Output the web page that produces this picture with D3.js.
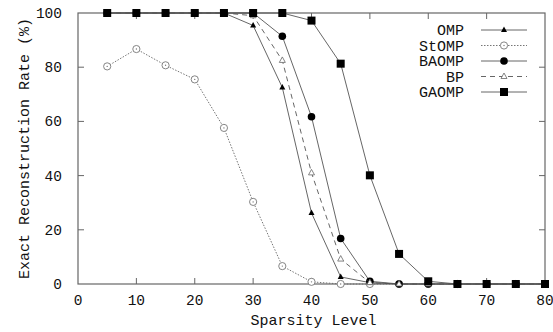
<!DOCTYPE html>
<html><head><meta charset="utf-8">
<script src="https://cdn.jsdelivr.net/npm/d3@7"></script>
<style>body{margin:0;background:#fff}svg{display:block}text{font-family:"Liberation Mono","DejaVu Sans Mono",monospace;fill:#111}</style>
</head><body><svg id="c" width="553" height="332"></svg>
<script>
const sparsity = [5,10,15,20,25,30,35,40,45,50,55,60,65,70,75,80];
const OMP   = [100,100,100,100,100,95.4,72.5,26.2,2.6,0.5,0,0,0,0,0,0];
const StOMP = [80.3,86.7,80.7,75.5,57.6,30.3,6.6,0.8,0,0,0,0,0,0,0,0];
const BAOMP = [100,100,100,100,100,100,91.4,61.7,16.8,1,0,0,0,0,0,0];
const BP    = [100,100,100,100,100,99,82.5,41,9.2,0.5,0,0,0,0,0,0];
const GAOMP = [100,100,100,100,100,100,100,97.2,81.3,40.1,11.1,1,0,0,0,0];
const xTicks = [0,10,20,30,40,50,60,70,80];
const yTicks = [0,20,40,60,80,100];
const seriesNames = ["OMP","StOMP","BAOMP","BP","GAOMP"];

const svg = d3.select("#c");
const L=78, R=545, T=13, B=284;
const x = d3.scaleLinear().domain([0,80]).range([L,R]);
const y = d3.scaleLinear().domain([0,100]).range([B,T]);
const frame="#666";

const g = svg.append("g");
xTicks.forEach(t=>{
  if(t>0 && t<80){
    g.append("line").attr("x1",x(t)).attr("x2",x(t)).attr("y1",B).attr("y2",B-6).attr("stroke",frame);
    g.append("line").attr("x1",x(t)).attr("x2",x(t)).attr("y1",T).attr("y2",T+6).attr("stroke",frame);
  }
  g.append("text").attr("x",x(t)).attr("y",B+21).attr("text-anchor","middle").attr("font-size",14.5).text(t);
});
yTicks.forEach(t=>{
  if(t>0 && t<100){
    g.append("line").attr("x1",L).attr("x2",L+6).attr("y1",y(t)).attr("y2",y(t)).attr("stroke",frame);
    g.append("line").attr("x1",R).attr("x2",R-6).attr("y1",y(t)).attr("y2",y(t)).attr("stroke",frame);
  }
  g.append("text").attr("x",L-16).attr("y",y(t)+5).attr("text-anchor","end").attr("font-size",14.5).text(t);
});
g.append("rect").attr("x",L).attr("y",T).attr("width",R-L).attr("height",B-T).attr("fill","none").attr("stroke",frame).attr("stroke-width",1.2);

svg.append("text").attr("x",(L+R)/2+2).attr("y",325).attr("text-anchor","middle").attr("font-size",15).text("Sparsity Level");
svg.append("text").attr("transform","translate(29,"+((T+B)/2)+") rotate(-90)").attr("text-anchor","middle").attr("font-size",15).text("Exact Reconstruction Rate (%)");

const line = d3.line().x((d,i)=>x(sparsity[i])).y(d=>y(d));
const styles = {
  OMP:{data:OMP,dash:null,marker:"tri"},
  StOMP:{data:StOMP,dash:"1.5,1.5",marker:"ocirc"},
  BAOMP:{data:BAOMP,dash:null,marker:"circ"},
  BP:{data:BP,dash:"5,4",marker:"otri"},
  GAOMP:{data:GAOMP,dash:null,marker:"sq"}
};
function marker(sel,type,cx,cy){
  if(type==="tri") sel.append("path").attr("d",`M${cx},${cy-3.5}L${cx+3},${cy+2}L${cx-3},${cy+2}Z`).attr("fill","#000");
  else if(type==="otri") sel.append("path").attr("d",`M${cx},${cy-3.5}L${cx+3},${cy+2}L${cx-3},${cy+2}Z`).attr("fill","#fff").attr("stroke","#666").attr("stroke-width",0.8);
  else if(type==="circ") sel.append("circle").attr("cx",cx).attr("cy",cy).attr("r",3.8).attr("fill","#000");
  else if(type==="ocirc"){ sel.append("circle").attr("cx",cx).attr("cy",cy).attr("r",3.6).attr("fill","#fff").attr("stroke","#777").attr("stroke-width",0.9);
    sel.append("circle").attr("cx",cx).attr("cy",cy).attr("r",0.7).attr("fill","#777"); }
  else if(type==="sq") sel.append("rect").attr("x",cx-4).attr("y",cy-4).attr("width",8).attr("height",8).attr("fill","#000");
}
seriesNames.forEach((n,k)=>{
  const s=styles[n];
  const gs=svg.append("g");
  gs.append("path").datum(s.data).attr("d",line).attr("fill","none").attr("stroke",n==="StOMP"?"#666":"#555").attr("stroke-width",0.9).attr("stroke-dasharray",s.dash);
  s.data.forEach((v,i)=>marker(gs,s.marker,x(sparsity[i]),y(v)));
  const ly=30+k*15.5;
  svg.append("text").attr("x",464).attr("y",ly+5).attr("text-anchor","end").attr("font-size",15).text(n);
  svg.append("line").attr("x1",481).attr("x2",527).attr("y1",ly).attr("y2",ly).attr("stroke",n==="StOMP"?"#666":"#555").attr("stroke-width",0.9).attr("stroke-dasharray",s.dash);
  marker(svg,s.marker,504,ly);
});
</script></body></html>
